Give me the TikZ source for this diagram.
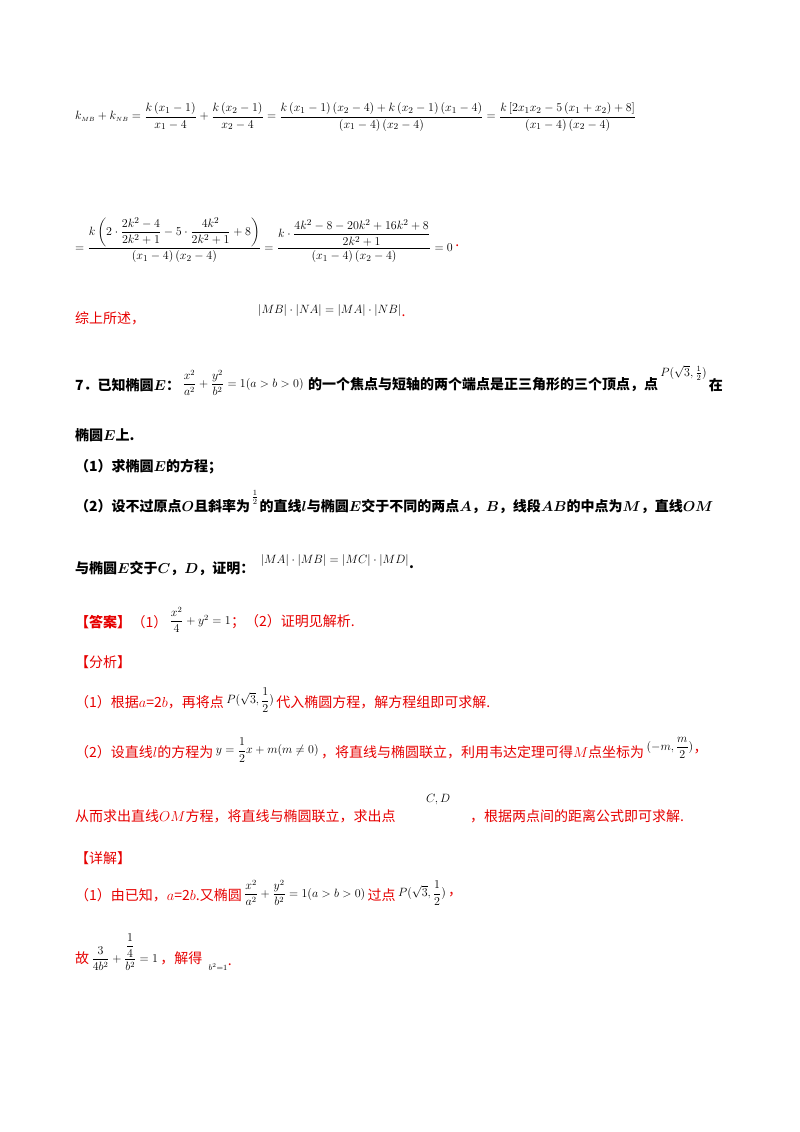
\documentclass[tikz,border=0pt]{standalone}
\usepackage{amsmath}
\usepackage{fontspec}
\newfontfamily\cjk{Noto Sans CJK SC}
\definecolor{myred}{RGB}{230,0,0}
\begin{document}
\begin{tikzpicture}[x=1pt,y=-1pt]
\tikzset{txt/.style={anchor=west,inner sep=0pt,font=\cjk\fontsize{14}{16}\selectfont},
 bt/.style={txt,font=\cjk\bfseries\fontsize{14}{16}\selectfont},
 eq/.style={anchor=west,inner sep=0pt,font=\fontsize{12}{14}\selectfont},
 big/.style={anchor=west,inner sep=0pt,font=\fontsize{12.5}{15}\selectfont},
 red/.style={text=myred}}
\useasboundingbox (0,0) rectangle (800,1132);
\node[big] (e1) at (75,117) {$k_{\scriptscriptstyle MB}+k_{\scriptscriptstyle NB}=\dfrac{k\left(x_1-1\right)}{x_1-4}+\dfrac{k\left(x_2-1\right)}{x_2-4}=\dfrac{k\left(x_1-1\right)\left(x_2-4\right)+k\left(x_2-1\right)\left(x_1-4\right)}{\left(x_1-4\right)\left(x_2-4\right)}=\dfrac{k\left[2x_1x_2-5\left(x_1+x_2\right)+8\right]}{\left(x_1-4\right)\left(x_2-4\right)}$};
\node[big] (e2) at (75,240) {$=\dfrac{k\left(2\cdot\dfrac{2k^2-4}{2k^2+1}-5\cdot\dfrac{4k^2}{2k^2+1}+8\right)}{\left(x_1-4\right)\left(x_2-4\right)}=\dfrac{k\cdot\dfrac{4k^2-8-20k^2+16k^2+8}{2k^2+1}}{\left(x_1-4\right)\left(x_2-4\right)}=0$};
\node[txt,red] (e2d) at ([xshift=2pt,yshift=-6pt]e2.east) {.};
\node[txt,red] (s1) at (75,318) {综上所述，};
\node[eq] (s1m) at (258,310) {$|MB|\cdot|NA|=|MA|\cdot|NB|$};
\node[txt,red] (s1d) at ([yshift=-6pt]s1m.east) {.};
\node[bt] (q7) at (75,385) {7．已知椭圆$\boldsymbol{E}$：};
\node[eq] (q7m) at ([xshift=2pt,yshift=2pt]q7.east) {$\dfrac{x^2}{a^2}+\dfrac{y^2}{b^2}=1(a>b>0)$};
\node[bt] (q7b) at ([xshift=4pt,yshift=-2pt]q7m.east) {的一个焦点与短轴的两个端点是正三角形的三个顶点，点};
\node[eq] (q7p) at ([xshift=2pt,yshift=12pt]q7b.east) {$P(\sqrt{3},\frac{1}{2})$};
\node[bt] (q7c) at ([xshift=2pt,yshift=-12pt]q7p.east) {在};
\node[bt] (q7d) at (75,435) {椭圆$\boldsymbol{E}$上.};
\node[bt] (q1) at (75,467) {（1）求椭圆$\boldsymbol{E}$的方程；};
\node[bt] (q2) at (75,506) {（2）设不过原点$\boldsymbol{O}$且斜率为};
\node[eq] (q2m) at ([xshift=1pt,yshift=9pt]q2.east) {$\frac{1}{2}$};
\node[bt] (q2b) at ([xshift=1pt,yshift=-9pt]q2m.east) {的直线$\boldsymbol{l}$与椭圆$\boldsymbol{E}$交于不同的两点$\boldsymbol{A}$，$\boldsymbol{B}$，线段$\boldsymbol{AB}$的中点为$\boldsymbol{M}$，直线$\boldsymbol{OM}$};
\node[bt] (q2c) at (75,568) {与椭圆$\boldsymbol{E}$交于$\boldsymbol{C}$，$\boldsymbol{D}$，证明：};
\node[eq] (q2cm) at ([xshift=6pt,yshift=8pt]q2c.east) {$|MA|\cdot|MB|=|MC|\cdot|MD|$};
\node[bt] (q2cd) at ([yshift=-7pt]q2cm.east) {.};
\node[bt,red] (an) at (75,622) {【答案】};
\node[txt,red] (an1) at (an.east) {（1）};
\node[eq] (anm) at ([xshift=2pt,yshift=2pt]an1.east) {$\dfrac{x^2}{4}+y^2=1$};
\node[txt,red] (an2) at ([yshift=-2pt]anm.east) {；（2）证明见解析.};
\node[txt,red] (fx) at (75,662) {【分析】};
\node[txt,red] (f1) at (75,702) {（1）根据$a$=2$b$，再将点};
\node[eq] (f1m) at ([xshift=2pt,yshift=2pt]f1.east) {$P(\sqrt{3},\dfrac{1}{2})$};
\node[txt,red] (f1b) at ([xshift=2pt,yshift=-2pt]f1m.east) {代入椭圆方程，解方程组即可求解.};
\node[txt,red] (f2) at (75,752) {（2）设直线$l$的方程为};
\node[eq] (f2m) at ([xshift=2pt,yshift=2pt]f2.east) {$y=\dfrac{1}{2}x+m(m\neq0)$};
\node[txt,red] (f2b) at ([xshift=2pt,yshift=-2pt]f2m.east) {，将直线与椭圆联立，利用韦达定理可得$M$点坐标为};
\node[eq] (f2m2) at ([xshift=2pt,yshift=4pt]f2b.east) {$(-m,\dfrac{m}{2})$};
\node[txt,red] (f2c) at ([yshift=-4pt]f2m2.east) {，};
\node[txt,red] (f3) at (75,816) {从而求出直线$OM$方程，将直线与椭圆联立，求出点};
\node[eq] (f3m) at (426,800) {$C,D$};
\node[txt,red] (f3b) at (470,816) {，根据两点间的距离公式即可求解.};
\node[txt,red] (xj) at (75,858) {【详解】};
\node[txt,red] (d1) at (75,895) {（1）由已知，$a$=2$b$.又椭圆};
\node[eq] (d1m) at ([xshift=2pt,yshift=2pt]d1.east) {$\dfrac{x^2}{a^2}+\dfrac{y^2}{b^2}=1(a>b>0)$};
\node[txt,red] (d1b) at ([xshift=2pt,yshift=-2pt]d1m.east) {过点};
\node[eq] (d1p) at ([xshift=2pt,yshift=2pt]d1b.east) {$P(\sqrt{3},\dfrac{1}{2})$};
\node[txt,red] (d1c) at ([xshift=2pt,yshift=-2pt]d1p.east) {，};
\node[txt,red] (d2) at (75,958) {故};
\node[eq] (d2m) at ([xshift=2pt,yshift=6pt]d2.east) {$\dfrac{3}{4b^2}+\dfrac{\dfrac{1}{4}}{b^2}=1$};
\node[txt,red] (d2b) at ([xshift=2pt,yshift=-6pt]d2m.east) {，解得};
\node[eq] (d2c) at ([xshift=6pt,yshift=-9pt]d2b.east) {$\scriptstyle b^2=1$};
\node[txt,red] (d2d) at ([yshift=2pt]d2c.east) {.};
\end{tikzpicture}
\end{document}
